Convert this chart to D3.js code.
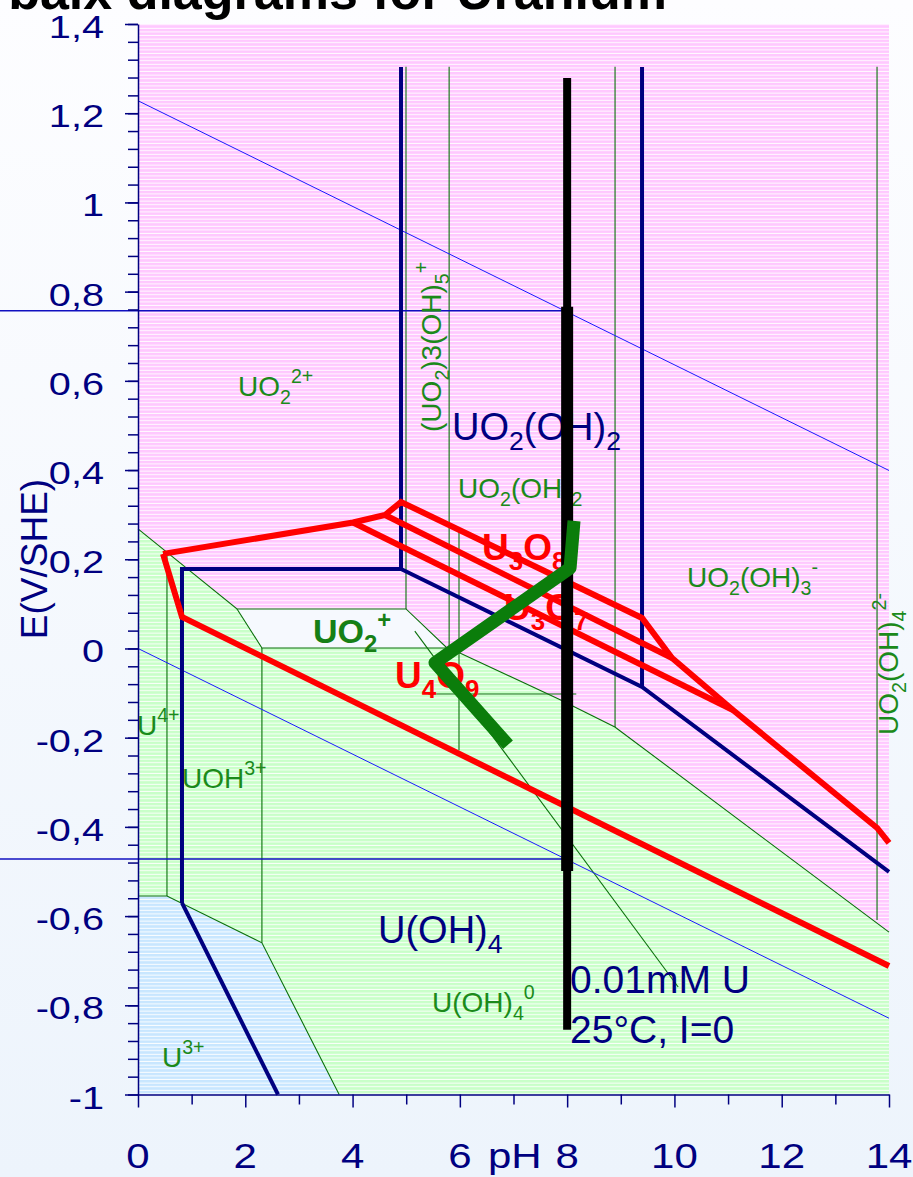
<!DOCTYPE html>
<html>
<head>
<meta charset="utf-8">
<script src="https://cdn.jsdelivr.net/npm/d3@7"></script>
<style>
  body { margin: 0; }
  svg { display: block; }
</style>
</head>
<body>
<script>
// ---------- axis ticks ----------
const yTickValues = [1.4, 1.2, 1.0, 0.8, 0.6, 0.4, 0.2, 0, -0.2, -0.4, -0.6, -0.8, -1.0];
const yTickLabels = ["1,4", "1,2", "1", "0,8", "0,6", "0,4", "0,2", "0", "-0,2", "-0,4", "-0,6", "-0,8", "-1"];
const xTickValues = [0, 2, 4, 6, 8, 10, 12, 14];
const xTickLabels = ["0", "2", "4", "6", "8", "10", "12", "14"];
const xMinorTicks = [1, 3, 5, 7, 9, 11, 13];

// ---------- predominance fields (pH, E) ----------
const fieldU4 = [[0, 0.268], [1.846, 0.0886], [2.31, 0.001], [5.76, 0.001], [6.0, -0.01],
  [7.87, -0.115], [8.89, -0.176], [14, -0.636], [14, -1.0], [3.75, -1.0],
  [2.31, -0.66], [0.54, -0.555], [0, -0.555]];
const fieldU3 = [[0, -0.555], [0.54, -0.555], [2.31, -0.66], [3.75, -1.0], [0, -1.0]];
const fieldUO2plus = [[1.846, 0.0886], [4.996, 0.0886], [5.76, 0.001], [2.31, 0.001]];

// ---------- thin species boundaries (aqueous) ----------
const speciesBounds = [
  [[0, 0.268], [1.846, 0.0886], [4.996, 0.0886], [5.76, 0.001], [6.0, -0.01], [7.87, -0.115], [8.89, -0.176], [14, -0.636]],
  [[1.846, 0.0886], [2.31, 0.001], [5.76, 0.001]],
  [[0, -0.555], [0.54, -0.555], [2.31, -0.66], [3.75, -1.0]],
  [[0.54, 0.216], [0.54, -0.555]],
  [[2.31, 0.001], [2.31, -0.66]],
  [[4.996, 1.304], [4.996, 0.0886]],
  [[5.80, 1.304], [5.80, 0.001]],
  [[5.984, 0.27], [5.984, -0.228]],
  [[8.893, 1.304], [8.893, -0.176]],
  [[13.777, 1.304], [13.777, -0.609]],
  [[5.41, -0.102], [8.17, -0.102]],
  [[5.16, 0.039], [10.07, -0.759]]
];

// ---------- water stability limits ----------
const waterUpper = [[0, 1.228], [14, 0.399]];
const waterLower = [[0, 0], [14, -0.829]];
const ehLevels = [0.757, -0.472];   // measured Eh range, drawn up to the sample pH

// ---------- solid-phase boundaries ----------
const uo2Bounds = [
  [[0.82, -0.5706], [0.82, 0.1783], [4.903, 0.1783], [4.903, 1.3038]],
  [[4.903, 0.1783], [9.396, -0.0863], [14, -0.5011]],
  [[9.396, -0.0863], [9.396, 1.3038]],
  [[0.82, -0.5706], [2.61, -1.0]]
];
const oxideBounds = [
  [[0.466, 0.212], [4.008, 0.2825], [4.605, 0.2993], [4.903, 0.3285], [9.396, 0.0684],
    [9.955, -0.0213], [11.09, -0.1379], [13.78, -0.4025], [14, -0.4361]],
  [[4.605, 0.2993], [9.955, -0.0213]],
  [[4.008, 0.2825], [11.09, -0.1379]],
  [[0.466, 0.212], [0.82, 0.0706], [14, -0.7119]]
];

// ---------- sample conditions ----------
const samplePH = 8;
const sampleSpan = [1.279, -0.855];
const sampleRange = [0.766, -0.499];
const trendPath = [[8.128, 0.286], [8.054, 0.180], [5.537, -0.032], [6.898, -0.216]];

// ---------- labels: text, pH, E, style ----------
const labelsGreen = [
  { t: "UO_2^{2+}", p: 1.864, e: 0.566 },
  { t: "UO_2(OH)_2", p: 5.966, e: 0.3374 },
  { t: "UO_2(OH)_3^{-}", p: 10.235, e: 0.1379 },
  { t: "U^{4+}", p: -0.019, e: -0.1939 },
  { t: "UOH^{3+}", p: 0.82, e: -0.3128 },
  { t: "U^{3+}", p: 0.447, e: -0.9383 },
  { t: "U(OH)_4^{0}", p: 5.481, e: -0.815 }
];
const labelsGreenRot = [
  { t: "(UO_2)3(OH)_5^{+}", p: 5.649, e: 0.4854 },
  { t: "UO_2(OH)_4^{2-}", p: 14.17, e: -0.1939 }
];
const labelsNavy = [
  { t: "UO_2(OH)_2", p: 5.854, e: 0.4675 },
  { t: "U(OH)_4", p: 4.474, e: -0.6603 }
];
const labelsOxide = [
  { t: "U_3O_8", p: 6.413, e: 0.1984 },
  { t: "U_3O_7", p: 6.823, e: 0.0639 },
  { t: "U_4O_9", p: 4.791, e: -0.0886 }
];
const labelUO2plus = { t: "UO_2^{+}", p: 3.262, e: 0.0123 };
const noteLines = [
  { t: "0.01mM U", p: 8.054, e: -0.7724 },
  { t: "25°C, I=0", p: 8.054, e: -0.8845 }
];

// ---------- drawing ----------
const W = 913, H = 1177;
const FONT = "Arial, 'Liberation Sans', sans-serif";
const NAVY = "#000080", GREEN_TXT = "#1b8a1b", GREEN_LINE = "#0a700a", RED = "#ff0000";

const x = d3.scaleLinear().domain([0, 14]).range([138, 889]);
const y = d3.scaleLinear().domain([-1, 1.4]).range([1094.5, 24]);
const line = d3.line().x(d => x(d[0])).y(d => y(d[1]));

const svg = d3.select("body").append("svg")
  .attr("width", W).attr("height", H)
  .attr("font-family", FONT);
const defs = svg.append("defs");

const bg = defs.append("linearGradient").attr("id", "bg")
  .attr("x1", 0).attr("y1", 0).attr("x2", 0).attr("y2", 1);
bg.append("stop").attr("offset", "0%").attr("stop-color", "#fdfdff");
bg.append("stop").attr("offset", "100%").attr("stop-color", "#edf4fc");

function stripes(id, color) {
  const p = defs.append("pattern").attr("id", id)
    .attr("patternUnits", "userSpaceOnUse").attr("width", 8).attr("height", 3.6);
  p.append("rect").attr("width", 8).attr("height", 3.6).attr("fill", color);
  p.append("rect").attr("y", 2.6).attr("width", 8).attr("height", 1)
    .attr("fill", "#ffffff").attr("opacity", 0.9);
}
stripes("pink", "#ffc8ff");
stripes("green", "#c8ffc8");
stripes("blue", "#c8e6ff");

svg.append("rect").attr("width", W).attr("height", H).attr("fill", "url(#bg)");

// fields
svg.append("rect")
  .attr("x", x(0)).attr("y", y(1.4))
  .attr("width", x(14) - x(0)).attr("height", y(-1) - y(1.4))
  .attr("fill", "url(#pink)");
svg.append("path").attr("d", line(fieldU4) + "Z").attr("fill", "url(#green)");
svg.append("path").attr("d", line(fieldU3) + "Z").attr("fill", "url(#blue)");
svg.append("path").attr("d", line(fieldUO2plus) + "Z").attr("fill", "#f6f9fe");

// thin aqueous boundaries
svg.append("g").selectAll("path").data(speciesBounds).join("path")
  .attr("d", line).attr("fill", "none")
  .attr("stroke", GREEN_LINE).attr("stroke-width", 1.1);

// water limits
svg.append("g").selectAll("path").data([waterUpper, waterLower]).join("path")
  .attr("d", line).attr("fill", "none")
  .attr("stroke", "#1a1aff").attr("stroke-width", 1);

// measured Eh range markers
svg.append("g").selectAll("path").data(ehLevels).join("path")
  .attr("d", e => line([[x.invert(0), e], [samplePH, e]]))
  .attr("fill", "none").attr("stroke", "#1010c0").attr("stroke-width", 1.4);

// solid boundaries
svg.append("g").selectAll("path").data(uo2Bounds).join("path")
  .attr("d", line).attr("fill", "none")
  .attr("stroke", NAVY).attr("stroke-width", 4)
  .attr("stroke-linejoin", "miter");
svg.append("g").selectAll("path").data(oxideBounds).join("path")
  .attr("d", line).attr("fill", "none")
  .attr("stroke", RED).attr("stroke-width", 6)
  .attr("stroke-linejoin", "miter");

// chemical formula text with sub/superscripts
function parseChem(s) {
  const segs = [];
  let i = 0, buf = "";
  const flush = () => { if (buf) { segs.push({ k: "", t: buf }); buf = ""; } };
  while (i < s.length) {
    const c = s[i];
    if (c === "_" || c === "^") {
      flush();
      let t;
      if (s[i + 1] === "{") {
        const j = s.indexOf("}", i);
        t = s.slice(i + 2, j); i = j + 1;
      } else { t = s[i + 1]; i += 2; }
      segs.push({ k: c === "_" ? "sub" : "sup", t });
    } else { buf += c; i++; }
  }
  flush();
  return segs;
}
function chemText(g, str, size, fill, weight) {
  const t = g.append("text").attr("font-size", size).attr("fill", fill)
    .attr("font-weight", weight || "normal");
  let off = 0;
  parseChem(str).forEach(s => {
    const target = s.k === "sub" ? size * 0.27 : s.k === "sup" ? -size * 0.45 : 0;
    t.append("tspan")
      .attr("dy", target - off)
      .attr("font-size", s.k ? size * 0.7 : size)
      .text(s.t);
    off = target;
  });
  return t;
}
function placeLabel(d, size, fill, weight, rotate) {
  const g = svg.append("g")
    .attr("transform", `translate(${x(d.p)},${y(d.e)})` + (rotate ? " rotate(-90)" : ""));
  chemText(g, d.t, size, fill, weight);
}

labelsGreen.forEach(d => placeLabel(d, 28, GREEN_TXT));
labelsGreenRot.forEach(d => placeLabel(d, 28, GREEN_TXT, "normal", true));
labelsNavy.forEach(d => placeLabel(d, 38, NAVY));
labelsOxide.forEach(d => placeLabel(d, 37, RED, "bold"));
placeLabel(labelUO2plus, 34, "#168016", "bold");
noteLines.forEach(d => placeLabel(d, 39, NAVY));

// sample pH bar
svg.append("line")
  .attr("x1", x(samplePH)).attr("x2", x(samplePH))
  .attr("y1", y(sampleSpan[0])).attr("y2", y(sampleSpan[1]))
  .attr("stroke", "#000").attr("stroke-width", 8);
svg.append("line")
  .attr("x1", x(samplePH)).attr("x2", x(samplePH))
  .attr("y1", y(sampleRange[0])).attr("y2", y(sampleRange[1]))
  .attr("stroke", "#000").attr("stroke-width", 12);

// redox trend
svg.append("path").attr("d", line(trendPath))
  .attr("fill", "none").attr("stroke", "#0b7d0b")
  .attr("stroke-width", 13).attr("stroke-linejoin", "round")
  .attr("stroke-linecap", "butt");

// axes
const yMinor = d3.range(61).map(i => +(1.4 - i * 0.04).toFixed(2));
const axY = svg.append("g").attr("transform", `translate(${x(0)},0)`);
axY.call(d3.axisLeft(y).tickValues(yMinor).tickSize(10).tickSizeOuter(0).tickFormat(""));
axY.append("g").call(d3.axisLeft(y).tickValues(yTickValues).tickSize(13).tickSizeOuter(0).tickFormat(""))
  .select(".domain").remove();
axY.selectAll("path, line").attr("stroke", NAVY).attr("stroke-width", 1.5);

const axX = svg.append("g").attr("transform", `translate(0,${y(-1)})`);
axX.call(d3.axisBottom(x).tickValues(xMinorTicks).tickSize(10).tickSizeOuter(0).tickFormat(""));
axX.append("g").call(d3.axisBottom(x).tickValues(xTickValues).tickSize(13).tickSizeOuter(0).tickFormat(""))
  .select(".domain").remove();
axX.selectAll("path, line").attr("stroke", NAVY).attr("stroke-width", 1.5);

// tick labels
yTickValues.forEach((v, i) => {
  svg.append("g").attr("transform", `translate(104,${y(v) + 14}) scale(1.28,1)`)
    .append("text").attr("text-anchor", "end").attr("font-size", 31)
    .attr("fill", NAVY).text(yTickLabels[i]);
});
xTickValues.forEach((v, i) => {
  svg.append("g").attr("transform", `translate(${x(v)},1168) scale(1.2,1)`)
    .append("text").attr("text-anchor", "middle").attr("font-size", 35)
    .attr("fill", NAVY).text(xTickLabels[i]);
});
svg.append("g").attr("transform", "translate(488,1168) scale(1.2,1)")
  .append("text").attr("font-size", 35).attr("fill", NAVY).text("pH");

svg.append("text")
  .attr("transform", "translate(47,559) rotate(-90)")
  .attr("text-anchor", "middle").attr("font-size", 37).attr("fill", NAVY)
  .text("E(V/SHE)");

// title
svg.append("text")
  .attr("x", 667).attr("y", 9)
  .attr("text-anchor", "end").attr("font-size", 52).attr("font-weight", "bold")
  .attr("fill", "#000").text("Pourbaix diagrams for Uranium");
</script>
</body>
</html>
